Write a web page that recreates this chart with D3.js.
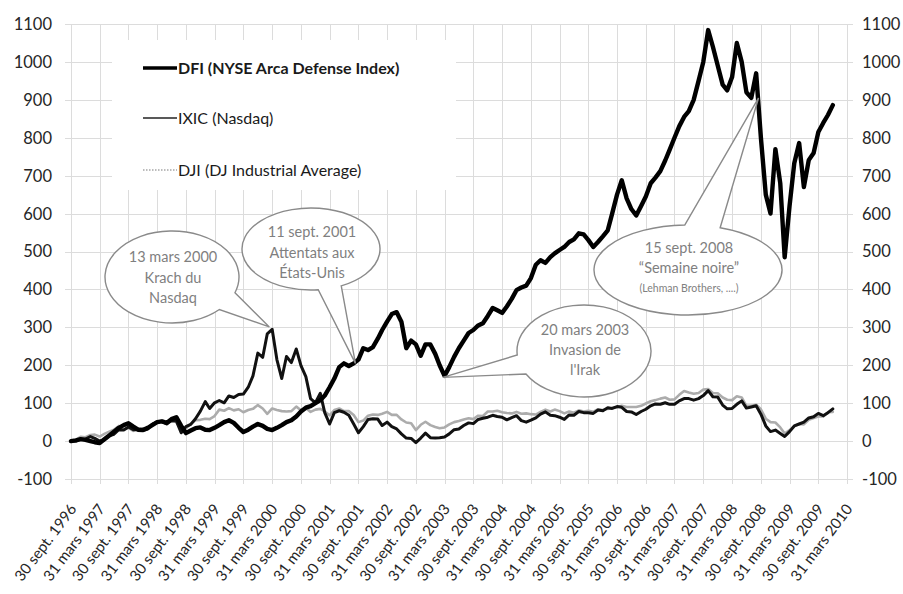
<!DOCTYPE html>
<html><head><meta charset="utf-8">
<script src="https://cdn.jsdelivr.net/npm/d3@7"></script>
<style>body{margin:0;background:#fff}svg{display:block}text{font-family:Lato,"Open Sans",sans-serif}</style>
</head><body>
<svg id="c" width="903" height="594"></svg>
<script>
// ---- data (monthly closes, % change since 30 sept. 1996) ----
const dfiValues = [0,2,5,3,0,-3,-5,5,15,25,
35,42,47,38,30,29,35,42,50,52,
48,58,63,40,21,28,34,36,30,29,
35,42,50,55,48,35,24,30,38,45,
40,32,29,35,42,50,55,65,78,88,
92,100,108,120,142,165,195,205,198,205,
215,245,240,248,270,293,315,335,340,315,
245,265,255,225,255,255,230,200,172,195,
222,245,265,285,293,305,311,330,351,345,
338,355,375,398,405,410,430,465,477,470,
485,495,504,512,525,532,548,545,530,512,
525,540,556,600,650,688,640,612,595,620,
645,680,695,712,740,768,800,830,855,870,
900,950,1000,1084,1040,990,940,925,960,1050,
1000,920,905,970,800,650,600,770,680,485,
620,733,786,670,741,760,815,839,860,886];
const ixicValues = [0,0,5,5,12,7,0,3,14,18,
30,29,37,30,30,28,32,44,50,52,
45,54,53,22,38,44,59,79,104,86,
101,107,101,119,115,123,124,142,172,232,
221,283,295,215,165,223,207,243,199,170,
112,101,126,75,45,75,80,76,68,45,
22,38,57,59,58,41,50,38,32,19,
8,7,-4,8,21,9,8,9,11,19,
30,32,41,48,46,57,60,63,68,65,
63,56,62,67,54,50,55,61,71,77,
68,67,63,57,69,68,78,75,75,73,
82,80,88,86,91,89,78,77,70,78,
84,93,98,97,101,97,97,106,112,112,
108,112,120,133,117,116,95,85,86,97,
106,87,90,93,71,40,25,29,20,12,
25,40,45,50,61,64,73,67,75,85];
const djiValues = [0,3,11,10,16,17,12,19,25,30,
40,30,35,27,33,34,34,45,50,54,
51,52,51,28,33,46,55,56,59,58,
66,83,80,87,81,84,76,82,85,95,
86,72,86,82,79,78,79,91,81,87,
77,83,85,78,68,82,86,79,79,69,
50,54,67,70,69,72,77,69,69,57,
49,47,29,43,51,42,37,34,36,44,
50,53,57,60,58,67,66,78,78,80,
76,74,73,77,72,73,71,70,77,83,
78,83,79,73,78,75,81,78,80,77,
84,82,85,87,89,93,90,90,90,93,
99,105,108,112,115,109,110,122,132,128,
125,127,136,137,127,126,115,109,108,118,
115,93,93,96,84,59,50,49,36,20,
29,39,45,44,56,61,65,65,76,77];
const tickLabels = ["30 sept. 1996","31 mars 1997","30 sept. 1997","31 mars 1998","30 sept. 1998","31 mars 1999",
"30 sept. 1999","31 mars 2000","30 sept. 2000","31 mars 2001","30 sept. 2001","31 mars 2002","30 sept. 2002",
"31 mars 2003","30 sept. 2003","31 mars 2004","30 sept. 2004","31 mars 2005","30 sept. 2005","31 mars 2006",
"30 sept. 2006","31 mars 2007","30 sept. 2007","31 mars 2008","30 sept. 2008","31 mars 2009","30 sept. 2009","31 mars 2010"];
const yTicks = [-100,0,100,200,300,400,500,600,700,800,900,1000,1100];
const seriesNames = ["DFI (NYSE Arca Defense Index)","IXIC (Nasdaq)","DJI (DJ Industrial Average)"];
const calloutTexts = [
  ["13 mars 2000","Krach du","Nasdaq"],
  ["11 sept. 2001","Attentats aux","États-Unis"],
  ["20 mars 2003","Invasion de","l'Irak"],
  ["15 sept. 2008","\u201CSemaine noire\u201D","(Lehman Brothers, ....)"]
];
const calloutDates = ["2000-03-13","2001-09-11","2003-03-20","2008-09-15"];
const calloutTipValues = [301, 205, 168, 905];

// ---- helpers ----
const monthEnd = i => new Date(1996, 9 + i, 0);          // i=0 -> 30 sept. 1996
const tickDate = i => new Date(1996, 9 + 6 * i, 0);

const svg = d3.select("#c");
const L = 71, R = 847, T = 24, B = 479;
const x = d3.scaleTime().domain([tickDate(0), tickDate(tickLabels.length - 1)]).range([L, R]);
const y = d3.scaleLinear().domain([-100, 1100]).range([B, T]);

// grid
const grid = svg.append("g").attr("stroke", "#dcdcdc").attr("stroke-width", 1);
grid.selectAll("line.h").data(yTicks).join("line")
  .attr("x1", L - 6).attr("x2", R + 6)
  .attr("y1", d => Math.round(y(d)) + 0.5).attr("y2", d => Math.round(y(d)) + 0.5);
grid.selectAll("line.v").data(tickLabels).join("line")
  .attr("x1", (d, i) => Math.round(x(tickDate(i))) + 0.5).attr("x2", (d, i) => Math.round(x(tickDate(i))) + 0.5)
  .attr("y1", T).attr("y2", B + 5);

// y axis labels (left & right)
const yl = svg.append("g").attr("font-size", 16.5).attr("fill", "#262626");
yl.selectAll("text.l").data(yTicks).join("text")
  .attr("x", 52).attr("y", d => y(d)).attr("dy", "0.36em").attr("text-anchor", "end")
  .text(d => d);
yl.selectAll("text.r").data(yTicks).join("text")
  .attr("x", 862).attr("y", d => y(d)).attr("dy", "0.36em").attr("text-anchor", "start")
  .text(d => d);

// x axis labels
svg.append("g").attr("font-size", 15).attr("fill", "#262626")
  .selectAll("text").data(tickLabels).join("text")
  .attr("transform", (d, i) => `translate(${x(tickDate(i)) + 2},${506}) rotate(-53)`)
  .attr("text-anchor", "end").attr("dy", "0.35em")
  .text(d => d);

// lines
const mk = vals => vals.map((v, i) => [monthEnd(i), v]);
const line = d3.line().x(d => x(d[0])).y(d => y(d[1])).curve(d3.curveLinear);
const styles = [
  {vals: djiValues, stroke: "#acacac", w: 2.6},
  {vals: ixicValues, stroke: "#111", w: 3},
  {vals: dfiValues, stroke: "#000", w: 4.4}
];
styles.forEach(s => {
  svg.append("path").attr("d", line(mk(s.vals))).attr("fill", "none")
    .attr("stroke", s.stroke).attr("stroke-width", s.w)
    .attr("stroke-linejoin", "round").attr("stroke-linecap", "round");
});

// legend
const lg = svg.append("g");
lg.append("rect").attr("x", 112).attr("y", 40).attr("width", 344).attr("height", 150).attr("fill", "#fff");
const legY = [68, 118, 170];
const legStyle = [
  {stroke: "#000", w: 3.4, dash: null, bold: true},
  {stroke: "#595959", w: 2, dash: null, bold: false},
  {stroke: "#a6a6a6", w: 1.6, dash: "1.5,1.5", bold: false}
];
seriesNames.forEach((n, i) => {
  lg.append("line").attr("x1", 143).attr("x2", 177).attr("y1", legY[i]).attr("y2", legY[i])
    .attr("stroke", legStyle[i].stroke).attr("stroke-width", legStyle[i].w)
    .attr("stroke-dasharray", legStyle[i].dash);
  lg.append("text").attr("x", 178).attr("y", legY[i]).attr("dy", "0.36em")
    .attr("font-size", 16).attr("font-weight", legStyle[i].bold ? 700 : 400)
    .attr("fill", "#1a1a1a").text(n);
});

// callouts (ellipse + pointer to the event date)
const bubbles = [
  {cx: 172, cy: 277, rx: 67, ry: 46, a1: 20, a2: 45, ty: [257, 278, 298], fs: [14.5, 14.5, 14.5]},
  {cx: 311, cy: 249, rx: 69, ry: 41, a1: 64, a2: 84, ty: [232, 253, 273], fs: [14.5, 14.5, 14.5]},
  {cx: 584, cy: 351, rx: 67, ry: 46, a1: 150, a2: 175, ty: [330, 350, 370], fs: [14.5, 14.5, 14.5]},
  {cx: 688, cy: 270, rx: 94, ry: 45, a1: -92, a2: -70, ty: [248, 268, 288], fs: [14.5, 14.5, 10.5]}
];
const parse = d3.timeParse("%Y-%m-%d");
bubbles.forEach((b, k) => {
  const tx = x(parse(calloutDates[k])), tyy = y(calloutTipValues[k]);
  const p = a => [b.cx + b.rx * Math.cos(a * Math.PI / 180), b.cy + b.ry * Math.sin(a * Math.PI / 180)];
  const p1 = p(b.a1), p2 = p(b.a2);
  const d = `M${p1[0]},${p1[1]}L${tx},${tyy}L${p2[0]},${p2[1]}A${b.rx},${b.ry} 0 1 1 ${p1[0]},${p1[1]}Z`;
  svg.append("path").attr("d", d).attr("fill", "#fff").attr("stroke", "#8a8a8a").attr("stroke-width", 1.4);
  calloutTexts[k].forEach((t, j) => {
    svg.append("text").attr("x", b.cx + 1).attr("y", b.ty[j]).attr("dy", "0.36em")
      .attr("text-anchor", "middle").attr("font-size", b.fs[j]).attr("fill", "#7f7f7f").text(t);
  });
});
</script>
</body></html>
